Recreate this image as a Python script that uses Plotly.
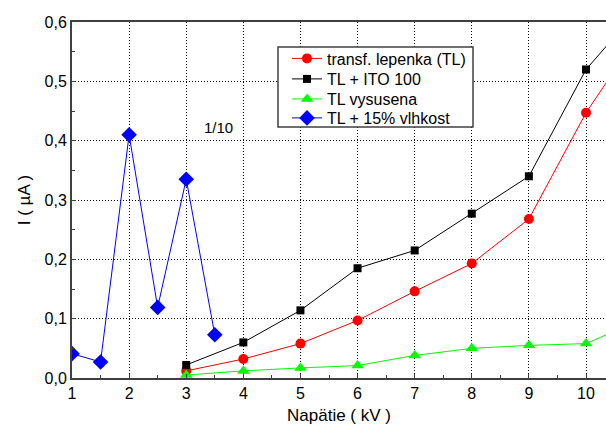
import plotly.graph_objects as go

x_main = [3, 4, 5, 6, 7, 8, 9, 10, 11]
red_vals = [0.012, 0.032, 0.058, 0.097, 0.146, 0.193, 0.268, 0.447, 0.59]
black_vals = [0.022, 0.060, 0.114, 0.185, 0.215, 0.277, 0.340, 0.520, 0.63]
green_vals = [0.005, 0.012, 0.017, 0.021, 0.038, 0.050, 0.055, 0.058, 0.10]
x_blue = [1, 1.5, 2, 2.5, 3, 3.5]
blue_vals = [0.041, 0.027, 0.410, 0.119, 0.335, 0.073]

x_ticks = [1, 2, 3, 4, 5, 6, 7, 8, 9, 10]
y_ticks = [0.0, 0.1, 0.2, 0.3, 0.4, 0.5, 0.6]
y_ticktext = ["0,0", "0,1", "0,2", "0,3", "0,4", "0,5", "0,6"]

series_names = ["transf. lepenka (TL)", "TL + ITO 100", "TL vysusena", "TL + 15% vlhkost"]

# plot area geometry in page pixels (body margin removed by post_script)
PL, PT, PW, PH = 72, 22, 534, 356

def py(ypix):  # page pixel y -> paper y
    return (PT + PH - ypix) / PH

def px(xpix):  # page pixel x -> paper x
    return (xpix - PL) / PW

fig = go.Figure()
fig.add_trace(go.Scatter(x=x_main, y=red_vals, mode="lines+markers", name=series_names[0],
                         line=dict(color="#FF0000", width=1), legend="legend",
                         marker=dict(symbol="circle", size=10, color="#FF0000")))
fig.add_trace(go.Scatter(x=x_main, y=black_vals, mode="lines+markers", name=series_names[1],
                         line=dict(color="#000000", width=1), legend="legend2",
                         marker=dict(symbol="square", size=8, color="#000000")))
fig.add_trace(go.Scatter(x=x_main, y=green_vals, mode="lines+markers", name=series_names[2],
                         line=dict(color="#00FF00", width=1), legend="legend3",
                         marker=dict(symbol="triangle-up", size=11, color="#00FF00")))
fig.add_trace(go.Scatter(x=x_blue, y=blue_vals, mode="lines+markers", name=series_names[3],
                         line=dict(color="#0000FF", width=1), legend="legend4",
                         marker=dict(symbol="diamond", size=12, color="#0000FF")))

fig.add_annotation(x=3.57, y=0.423, text="1/10", showarrow=False,
                   font=dict(size=15, color="black"))

# legend frame
fig.add_shape(type="rect", xref="paper", yref="paper",
              x0=px(278), x1=px(473), y0=py(127), y1=py(47),
              line=dict(color="#404040", width=1.5), fillcolor="white", layer="above")

row_y = [58.5, 79, 99, 118]
legend_common = dict(xanchor="left", yanchor="middle", bgcolor="rgba(0,0,0,0)",
                     borderwidth=0, font=dict(size=16))
legends = {}
for i, name in enumerate(["legend", "legend2", "legend3", "legend4"]):
    legends[name] = dict(x=px(287), y=py(row_y[i]), **legend_common)

fig.update_layout(
    width=606, height=431,
    margin=dict(l=PL, r=0, t=PT, b=431 - PT - PH),
    paper_bgcolor="white", plot_bgcolor="white",
    font=dict(family="Liberation Sans, Arial, sans-serif", size=16, color="black"),
    showlegend=True,
    **legends,
    xaxis=dict(range=[1, 10.35], tickvals=x_ticks, ticktext=[str(v) for v in x_ticks],
               showline=True, linecolor="#404040", linewidth=2, mirror=True,
               showgrid=True, gridcolor="black", griddash="1px,2px", gridwidth=1,
               ticks="inside", ticklen=4, tickcolor="#404040",
               minor=dict(dtick=0.5, tick0=1, ticks="inside", ticklen=3, tickcolor="#404040", showgrid=False),
               zeroline=False, tickfont=dict(size=16),
               title=dict(text="Napätie ( kV )", standoff=8, font=dict(size=17))),
    yaxis=dict(range=[0, 0.6], tickvals=y_ticks, ticktext=y_ticktext,
               showline=True, linecolor="#404040", linewidth=2, mirror=False,
               showgrid=True, gridcolor="black", griddash="1px,2px", gridwidth=1,
               ticks="inside", ticklen=4, tickcolor="#404040",
               minor=dict(dtick=0.05, tick0=0, ticks="inside", ticklen=3, tickcolor="#404040", showgrid=False),
               zeroline=False, tickfont=dict(size=16),
               title=dict(text="I ( µA )", standoff=10, font=dict(size=17))),
)

fig.write_html("out.html",
               config={"displayModeBar": False, "staticPlot": True},
               post_script="document.documentElement.style.margin='0';document.body.style.margin='0';"
                           "document.documentElement.style.overflow='hidden';document.body.style.overflow='hidden';")
